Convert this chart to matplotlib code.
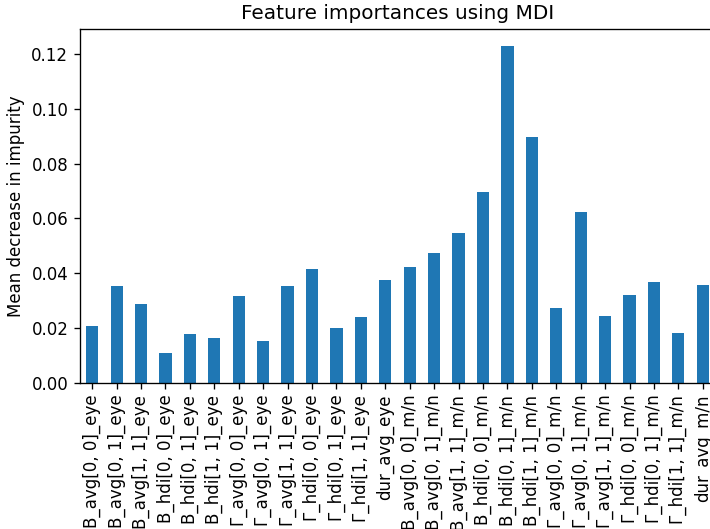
import pandas as pd
import matplotlib.pyplot as plt

features = [
    "B_avg[0, 0]_eye", "B_avg[0, 1]_eye", "B_avg[1, 1]_eye",
    "B_hdi[0, 0]_eye", "B_hdi[0, 1]_eye", "B_hdi[1, 1]_eye",
    "Γ_avg[0, 0]_eye", "Γ_avg[0, 1]_eye", "Γ_avg[1, 1]_eye",
    "Γ_hdi[0, 0]_eye", "Γ_hdi[0, 1]_eye", "Γ_hdi[1, 1]_eye",
    "dur_avg_eye",
    "B_avg[0, 0]_m/n", "B_avg[0, 1]_m/n", "B_avg[1, 1]_m/n",
    "B_hdi[0, 0]_m/n", "B_hdi[0, 1]_m/n", "B_hdi[1, 1]_m/n",
    "Γ_avg[0, 0]_m/n", "Γ_avg[0, 1]_m/n", "Γ_avg[1, 1]_m/n",
    "Γ_hdi[0, 0]_m/n", "Γ_hdi[0, 1]_m/n", "Γ_hdi[1, 1]_m/n",
    "dur_avg_m/n",
]
importances = [
    0.0207, 0.0353, 0.0287, 0.0109, 0.0178, 0.0164,
    0.0316, 0.0153, 0.0353, 0.0415, 0.0200, 0.0240,
    0.0375,
    0.0424, 0.0473, 0.0545, 0.0698, 0.1229, 0.0898,
    0.0273, 0.0625, 0.0244, 0.0320, 0.0367, 0.0182,
    0.0356,
]

forest_importances = pd.Series(importances, index=features)

W, H, DPI = 710, 529, 120
fig = plt.figure(figsize=(W / DPI, H / DPI), dpi=DPI)
# axes runs a little past the right edge, as in the (cropped) original
ax = fig.add_axes([80 / W, (H - 383) / H, 635 / W, 354 / H])
forest_importances.plot.bar(ax=ax)
ax.set_title("Feature importances using MDI")
ax.set_ylabel("Mean decrease in impurity")
fig.savefig("out.png")
